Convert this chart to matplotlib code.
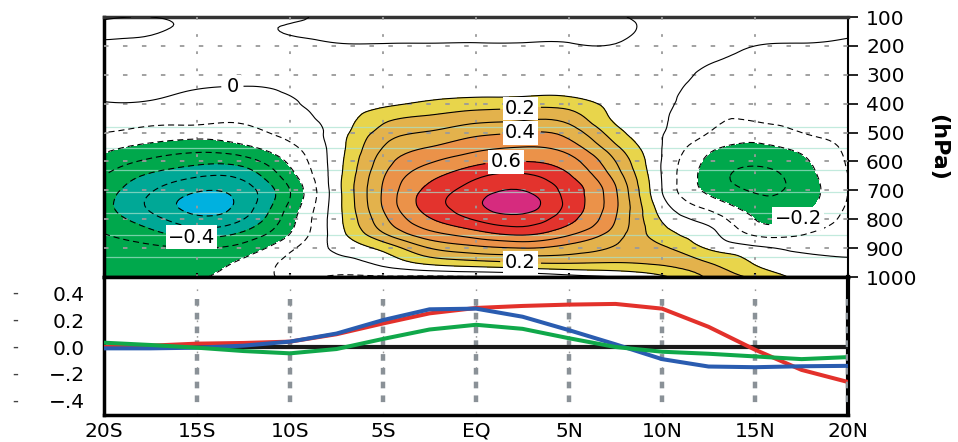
import numpy as np
import matplotlib
matplotlib.use("Agg")
import matplotlib.pyplot as plt
import matplotlib.tri as mtri

plt.rcParams['font.family'] = ['DejaVu Sans']
plt.rcParams['lines.dashed_pattern'] = (5.5, 3.5)

# ---- data -------------------------------------------------------------
lat = [-20, -17.5, -15, -12.5, -10, -7.5, -5, -2.5, 0, 2.5, 5, 7.5, 10, 12.5, 15, 17.5, 20]
pres = [100, 150, 200, 250, 300, 350, 400, 450, 500, 550, 600, 650, 700, 750, 800, 850, 900, 950, 1000]

# anomaly field, one row per pressure level (100 -> 1000 hPa), columns 20S -> 20N
field = [
    [0.01, 0.0, 0.01, 0.01, 0.01, -0.02, -0.03, -0.04, -0.05, -0.05, -0.05, -0.01, 0.02, 0.03, 0.03, 0.03, 0.03],
    [-0.02, -0.005, 0.01, 0.01, -0.003, -0.015, -0.02, -0.02, -0.02, -0.02, -0.02, -0.02, 0.03, 0.03, 0.02, 0.02, 0.01],
    [0.02, 0.02, 0.03, 0.03, 0.02, 0.005, 0.005, 0.005, 0.005, 0.005, 0.005, 0.005, 0.04, 0.03, 0.0, -0.005, -0.01],
    [0.03, 0.04, 0.05, 0.05, 0.04, 0.03, 0.03, 0.03, 0.03, 0.03, 0.03, 0.03, 0.04, 0.01, -0.02, -0.02, -0.02],
    [0.03, 0.04, 0.04, 0.04, 0.03, 0.04, 0.04, 0.04, 0.05, 0.05, 0.05, 0.05, 0.04, -0.02, -0.04, -0.03, -0.03],
    [0.02, 0.02, 0.0, -0.01, 0.01, 0.04, 0.05, 0.05, 0.06, 0.06, 0.07, 0.06, 0.03, -0.04, -0.05, -0.04, -0.04],
    [-0.005, -0.01, -0.04, -0.04, -0.01, 0.04, 0.08, 0.12, 0.15, 0.16, 0.15, 0.07, 0.02, -0.06, -0.07, -0.05, -0.05],
    [-0.05, -0.07, -0.07, -0.08, -0.03, 0.04, 0.17, 0.22, 0.26, 0.28, 0.26, 0.08, 0.01, -0.08, -0.09, -0.07, -0.06],
    [-0.10, -0.13, -0.15, -0.13, -0.07, 0.045, 0.24, 0.31, 0.37, 0.40, 0.36, 0.14, 0.005, -0.10, -0.15, -0.10, -0.07],
    [-0.17, -0.23, -0.26, -0.22, -0.12, 0.05, 0.30, 0.40, 0.47, 0.50, 0.45, 0.22, 0.0, -0.17, -0.22, -0.17, -0.08],
    [-0.24, -0.32, -0.37, -0.35, -0.18, 0.055, 0.35, 0.49, 0.57, 0.60, 0.54, 0.30, -0.005, -0.22, -0.28, -0.22, -0.09],
    [-0.30, -0.42, -0.49, -0.47, -0.24, 0.06, 0.39, 0.57, 0.68, 0.72, 0.61, 0.36, -0.005, -0.24, -0.33, -0.25, -0.10],
    [-0.35, -0.49, -0.59, -0.55, -0.30, 0.06, 0.41, 0.63, 0.75, 0.80, 0.66, 0.41, 0.0, -0.22, -0.31, -0.26, -0.10],
    [-0.37, -0.52, -0.64, -0.56, -0.28, 0.06, 0.41, 0.65, 0.78, 0.85, 0.67, 0.42, 0.04, -0.14, -0.26, -0.24, -0.09],
    [-0.35, -0.46, -0.57, -0.50, -0.24, 0.06, 0.37, 0.59, 0.71, 0.76, 0.63, 0.40, 0.09, -0.04, -0.20, -0.19, -0.07],
    [-0.30, -0.37, -0.44, -0.38, -0.20, 0.05, 0.29, 0.47, 0.56, 0.62, 0.52, 0.35, 0.14, 0.03, -0.12, -0.11, -0.05],
    [-0.26, -0.28, -0.30, -0.26, -0.12, 0.02, 0.13, 0.30, 0.37, 0.40, 0.36, 0.29, 0.22, 0.09, 0.02, -0.02, -0.02],
    [-0.24, -0.24, -0.24, -0.18, -0.08, -0.04, 0.03, 0.13, 0.17, 0.20, 0.21, 0.20, 0.22, 0.20, 0.09, 0.03, 0.01],
    [-0.23, -0.23, -0.21, -0.15, -0.09, -0.11, -0.11, -0.12, -0.11, -0.095, -0.04, 0.0, 0.08, 0.21, 0.18, 0.07, 0.03],
]

# zonal profiles for the lower panel
red_line = [0.0, 0.01, 0.025, 0.03, 0.04, 0.095, 0.175, 0.25, 0.29, 0.305, 0.315, 0.32, 0.285, 0.15, -0.02, -0.17, -0.26]
blue_line = [-0.01, -0.01, -0.005, 0.01, 0.04, 0.10, 0.20, 0.28, 0.285, 0.225, 0.125, 0.02, -0.09, -0.145, -0.15, -0.143, -0.14]
green_line = [0.032, 0.015, -0.005, -0.03, -0.047, -0.015, 0.06, 0.13, 0.165, 0.135, 0.065, 0.0, -0.035, -0.05, -0.07, -0.09, -0.075]

x_ticks = [-20, -15, -10, -5, 0, 5, 10, 15, 20]
x_labels = ['20S', '15S', '10S', '5S', 'EQ', '5N', '10N', '15N', '20N']
p_ticks = [100, 200, 300, 400, 500, 600, 700, 800, 900, 1000]
y2_ticks = [0.4, 0.2, 0.0, -0.2, -0.4]
y2_labels = ['0.4', '0.2', '0.0', '\u2212.2', '\u2212.4']

fill_levels = [-1.0, -0.6, -0.4, -0.2, 0.1, 0.2, 0.4, 0.6, 0.8, 1.0]
fill_colors = ['#00b1df', '#00a896', '#00a84c', 'white', '#e8d54b',
               '#e3b24c', '#eb9249', '#e3332d', '#d62b7e']
plain_levels = [-0.6, -0.5, -0.3, -0.1, 0.1, 0.3, 0.5, 0.7, 0.8]
pos_label_levels = [0.2, 0.4, 0.6]
neg_label_levels = [-0.4, -0.2, 0.0]
stripe_p = [480, 553, 629, 705, 778, 854, 930]   # faint scan stripes

# ---- smooth contouring of the gridded field ----------------------------
Z = np.array(field)
LL, PP = np.meshgrid(lat, pres)
pscale = 20.0   # 50 hPa ~ 2.5 deg so the cubic fit is isotropic
tri = mtri.Triangulation(LL.ravel(), PP.ravel() / pscale)
interp = mtri.CubicTriInterpolator(tri, Z.ravel(), kind='min_E')
tri_f, z_f = mtri.UniformTriRefiner(tri).refine_field(Z.ravel(), triinterpolator=interp, subdiv=3)
tri_plot = mtri.Triangulation(tri_f.x, tri_f.y * pscale, tri_f.triangles)

# ---- figure -----------------------------------------------------------
fig = plt.figure(figsize=(9.58, 4.42), dpi=100)
ax1 = fig.add_axes([0.1086, 0.3733, 0.7766, 0.5882])
ax2 = fig.add_axes([0.1086, 0.0611, 0.7766, 0.3122])

# Top panel: latitude-pressure section
ax1.set_xlim(-20, 20)
ax1.set_ylim(1000, 100)
ax1.tricontourf(tri_plot, z_f, levels=fill_levels, colors=fill_colors, zorder=1)
for p in stripe_p:
    ax1.axhline(p, color='#a8e2cf', lw=0.9, alpha=0.7, zorder=2)
for x in x_ticks[1:-1]:
    ax1.axvline(x, color='#9a9a9a', lw=1.3, ls=(0, (1.5, 8)), zorder=3)
for p in p_ticks[1:-1]:
    ax1.axhline(p, color='#9a9a9a', lw=1.3, ls=(0, (2.5, 8)), zorder=3)

cs_plain = ax1.tricontour(tri_plot, z_f, levels=plain_levels, colors='k', linewidths=0.8, zorder=4)
cs_pos = ax1.tricontour(tri_plot, z_f, levels=pos_label_levels, colors='k', linewidths=0.8, zorder=4)
cs_neg = ax1.tricontour(tri_plot, z_f, levels=neg_label_levels, colors='k', linewidths=0.8, zorder=4)


def fmt(v):
    if abs(v) < 1e-9:
        return '0'
    return f'{v:.1f}'.replace('-', '\u2212')


labels = ax1.clabel(cs_pos, fmt=fmt, fontsize=14, inline=True,
                    manual=[(2.4, 425), (2.4, 505), (1.6, 600), (2.4, 945)])
labels += ax1.clabel(cs_neg, fmt=fmt, fontsize=14, inline=True,
                     manual=[(-15.3, 866), (17.4, 805), (-13.1, 338)])
for t in labels:
    t.set_rotation(0)
    t.set_bbox(dict(boxstyle='square,pad=0.12', fc='white', ec='none'))
    t.set_zorder(6)

ax1.yaxis.tick_right()
ax1.set_yticks(p_ticks)
ax1.set_xticks(x_ticks)
ax1.tick_params(axis='y', direction='out', length=7, width=1.2, labelsize=14.5, pad=6)
ax1.tick_params(axis='x', direction='in', length=3, width=1.5, labelbottom=False)
ax1.yaxis.set_label_position('right')
ax1.set_ylabel('(hPa)', rotation=270, fontsize=16, fontweight='bold', labelpad=22)
ax1.spines['left'].set_linewidth(2.5)
ax1.spines['top'].set_linewidth(2.5)
ax1.spines['top'].set_color('#333333')
ax1.spines['right'].set_linewidth(1.5)
ax1.spines['bottom'].set_linewidth(2.5)

# Bottom panel: profiles
ax2.set_xlim(-20, 20)
ax2.set_ylim(-0.505, 0.52)
for x in x_ticks[1:]:
    ax2.axvline(x, color='#9a9a9a', lw=1.0, ls=(0, (1.2, 10)), zorder=1)
    ax2.plot([x, x], [0.36, -0.42], color='#8a9197', lw=3.2, ls=(0, (1.5, 1.6)),
             solid_capstyle='butt', zorder=6 if x == 20 else 2)
ax2.axhline(0, color='#1a1a1a', lw=3.0, zorder=3)
ax2.plot(lat, red_line, color='#e3312b', lw=2.9, zorder=4)
ax2.plot(lat, blue_line, color='#2a5cb0', lw=2.9, zorder=4)
ax2.plot(lat, green_line, color='#10a84a', lw=2.9, zorder=4)

ax2.set_xticks(x_ticks)
ax2.set_xticklabels(x_labels)
ax2.set_yticks(y2_ticks)
ax2.set_yticklabels(y2_labels)
ax2.tick_params(axis='x', length=0, labelsize=14.5, pad=5)
ax2.tick_params(axis='y', length=0, labelsize=14.5, pad=14)
for v in y2_ticks:
    ax2.text(-0.12, v, '-', transform=ax2.get_yaxis_transform(), ha='center', va='center',
             fontsize=12, color='#444444')
for side in ['left', 'bottom', 'top']:
    ax2.spines[side].set_linewidth(2.5)
ax2.spines['right'].set_linewidth(3.0)

fig.savefig('out.png', dpi=100)
